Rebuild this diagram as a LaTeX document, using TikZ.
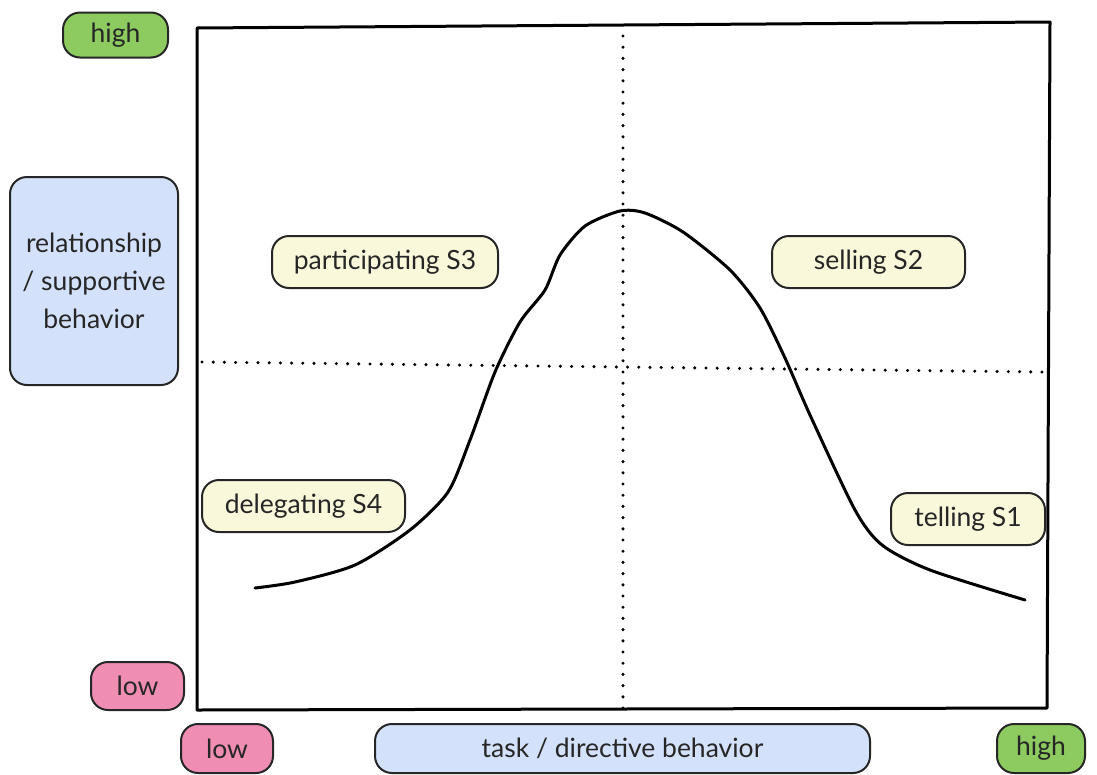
\documentclass[tikz,border=0pt]{standalone}
\usepackage{fontspec}
\setmainfont{Lato}
\usepackage{tikz}

\definecolor{hiGreen}{HTML}{8DCB60}
\definecolor{loPink}{HTML}{EF8EB2}
\definecolor{axBlue}{HTML}{D3E2FA}
\definecolor{styCream}{HTML}{FAF8DA}

\tikzset{
  tag/.style={draw=black!85, line width=2pt, rounded corners=17pt, inner sep=0pt, font=\fontsize{26.5}{38}\selectfont, text=black!85},
}

\begin{document}
\begin{tikzpicture}[x=1pt,y=1pt,yscale=-1]
	\useasboundingbox (0,0) rectangle (1097,774);
	
	%Shape: Frame
	\draw [line width=3pt, line join=round]  (197,28) -- (1050,22) -- (1047,708) -- (197,710) -- cycle ;
	%Straight Lines: vertical divider
	\draw [line width=3.4pt, line cap=round, dash pattern={on 0pt off 11.2pt}]  (623,36) -- (623,708) ;
	%Straight Lines: horizontal divider
	\draw [line width=3.4pt, line cap=round, dash pattern={on 0pt off 11.2pt}]  (202,362) -- (1042,372) ;
	%Curve Lines: readiness curve
	\draw [line width=3pt, line join=round, line cap=round]  plot [smooth, tension=0.45] coordinates {(255,588) (295,582) (355,565) (410,530) (448,492) (470,440) (495,372) (520,322) (545,290) (560,255) (585,226) (620,211) (645,213) (683,232) (730,270) (760,308) (785,358) (810,415) (855,510) (882,545) (930,570) (1025,600)};
	
	% Text Node
	\draw (115.5,35) node [tag, fill=hiGreen, minimum width=105pt, minimum height=45pt] (yhigh) {high};
	% Text Node
	\draw (94,281) node [tag, fill=axBlue, minimum width=168pt, minimum height=208pt, align=center] (yaxis) {relationship\\/ supportive\\behavior};
	% Text Node
	\draw (137.5,686) node [tag, fill=loPink, minimum width=93pt, minimum height=48pt] (ylow) {low};
	% Text Node
	\draw (227,748.5) node [tag, fill=loPink, minimum width=92pt, minimum height=49pt] (xlow) {low};
	% Text Node
	\draw (622.5,748.5) node [tag, fill=axBlue, minimum width=495pt, minimum height=49pt] (xaxis) {task / directive behavior};
	% Text Node
	\draw (1041,748.5) node [tag, fill=hiGreen, minimum width=88pt, minimum height=49pt] (xhigh) {high};
	% Text Node
	\draw (385,262) node [tag, fill=styCream, minimum width=226pt, minimum height=52pt] (sthree) {participating S3};
	% Text Node
	\draw (868.5,262) node [tag, fill=styCream, minimum width=193pt, minimum height=52pt] (stwo) {selling S2};
	% Text Node
	\draw (303.5,506) node [tag, fill=styCream, minimum width=203pt, minimum height=52pt] (sfour) {delegating S4};
	% Text Node
	\draw (968,519) node [tag, fill=styCream, minimum width=154pt, minimum height=52pt] (sone) {telling S1};
	
\end{tikzpicture}
\end{document}
